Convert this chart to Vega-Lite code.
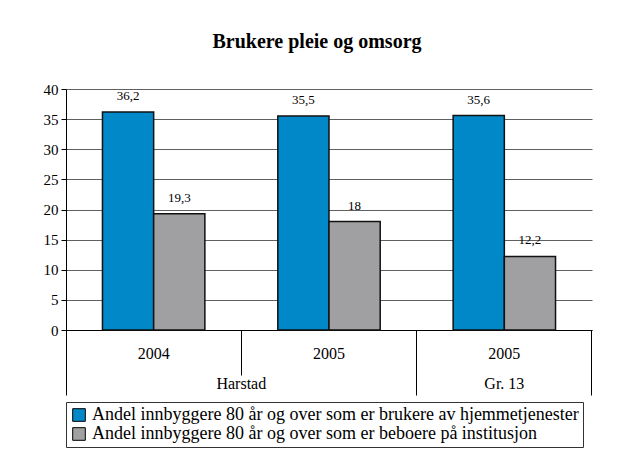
{
  "$schema": "https://vega.github.io/schema/vega-lite/v6.json",
  "width": 526,
  "height": 241,
  "autosize": {"type": "none"},
  "padding": {"left": 66, "top": 89, "right": 39, "bottom": 144},
  "background": "white",
  "config": {
    "font": "Liberation Serif",
    "view": {"stroke": null},
    "axis": {"labelFont": "Liberation Serif", "labelColor": "black"},
    "legend": {"labelFont": "Liberation Serif"}
  },
  "title": {
    "text": "Brukere pleie og omsorg",
    "font": "Liberation Serif",
    "fontSize": 20,
    "fontWeight": "bold",
    "color": "black",
    "offset": 30,
    "dx": -12
  },
  "data": {
    "values": [
      {"group": "2004 Harstad", "series": "Andel innbyggere 80 år og over som er brukere av hjemmetjenester", "value": 36.2},
      {"group": "2004 Harstad", "series": "Andel innbyggere 80 år og over som er beboere på institusjon", "value": 19.3},
      {"group": "2005 Harstad", "series": "Andel innbyggere 80 år og over som er brukere av hjemmetjenester", "value": 35.5},
      {"group": "2005 Harstad", "series": "Andel innbyggere 80 år og over som er beboere på institusjon", "value": 18},
      {"group": "2005 Gr. 13", "series": "Andel innbyggere 80 år og over som er brukere av hjemmetjenester", "value": 35.6},
      {"group": "2005 Gr. 13", "series": "Andel innbyggere 80 år og over som er beboere på institusjon", "value": 12.2}
    ]
  },
  "transform": [
    {"calculate": "replace(format(datum.value, '.3~g'), '.', ',')", "as": "label"}
  ],
  "encoding": {
    "xOffset": {
      "field": "series",
      "type": "nominal",
      "sort": ["Andel innbyggere 80 år og over som er brukere av hjemmetjenester", "Andel innbyggere 80 år og over som er beboere på institusjon"]
    },
    "y": {
      "field": "value",
      "type": "quantitative",
      "scale": {"domain": [0, 40], "nice": false},
      "axis": {
        "title": null,
        "values": [0, 5, 10, 15, 20, 25, 30, 35, 40],
        "labelFontSize": 15,
        "labelPadding": 3,
        "tickSize": 5,
        "tickColor": "black",
        "domainColor": "black",
        "gridColor": "#606060"
      }
    }
  },
  "layer": [
    {
      "mark": {"type": "bar", "stroke": "#111111", "strokeWidth": 1.5},
      "encoding": {
        "x": {
          "field": "group",
          "type": "nominal",
          "sort": ["2004 Harstad", "2005 Harstad", "2005 Gr. 13"],
          "scale": {"paddingInner": 0.416, "paddingOuter": 0.208},
          "axis": {
            "title": null,
            "orient": "bottom",
            "labelAngle": 0,
            "labelExpr": "slice(datum.value, 0, 4)",
            "labelFontSize": 16,
            "bandPosition": -0.356,
            "labelPadding": -30,
            "tickSize": 45,
            "tickColor": "black",
            "domainColor": "black",
            "grid": false
          }
        },
        "color": {
          "field": "series",
          "type": "nominal",
          "sort": ["Andel innbyggere 80 år og over som er brukere av hjemmetjenester", "Andel innbyggere 80 år og over som er beboere på institusjon"],
          "scale": {"range": ["#0088C8", "#A0A0A2"]},
          "legend": {
            "title": null,
            "orient": "bottom",
            "direction": "vertical",
            "offset": 6,
            "symbolType": "square",
            "symbolSize": 160,
            "symbolStrokeColor": "black",
            "symbolStrokeWidth": 1,
            "labelFontSize": 18,
            "labelColor": "black",
            "labelLimit": 600,
            "rowPadding": 1,
            "strokeColor": "#333333",
            "padding": 4
          }
        }
      }
    },
    {
      "mark": {"type": "text", "baseline": "bottom", "dy": -9, "fontSize": 13, "color": "black", "font": "Liberation Serif"},
      "encoding": {
        "x": {
          "field": "group",
          "type": "nominal",
          "sort": ["2004 Harstad", "2005 Harstad", "2005 Gr. 13"],
          "axis": {
            "title": null,
            "orient": "bottom",
            "labelAngle": 0,
            "labelExpr": "datum.value == '2004 Harstad' ? 'Harstad' : (datum.value == '2005 Gr. 13' ? 'Gr. 13' : '')",
            "labelFontSize": 16,
            "bandPosition": 1.356,
            "labelOffset": {"condition": {"test": "datum.value == '2004 Harstad'", "value": 87.67}, "value": 0},
            "labelPadding": -20,
            "labelOverlap": false,
            "labelFlush": false,
            "tickSize": 65,
            "tickColor": "black",
            "tickOpacity": {"condition": {"test": "datum.value == '2004 Harstad'", "value": 0}, "value": 1},
            "domain": false,
            "grid": false
          }
        },
        "text": {"field": "label", "type": "nominal"}
      }
    },
    {
      "mark": {"type": "text", "text": ""},
      "encoding": {
        "x": {
          "field": "group",
          "type": "nominal",
          "sort": ["2004 Harstad", "2005 Harstad", "2005 Gr. 13"],
          "axis": {
            "title": null,
            "orient": "bottom",
            "labels": false,
            "bandPosition": -0.356,
            "tickSize": 65,
            "tickColor": "black",
            "tickOpacity": {"condition": {"test": "datum.value == '2004 Harstad'", "value": 1}, "value": 0},
            "domain": false,
            "grid": false
          }
        }
      }
    }
  ],
  "resolve": {"axis": {"x": "independent"}}
}
